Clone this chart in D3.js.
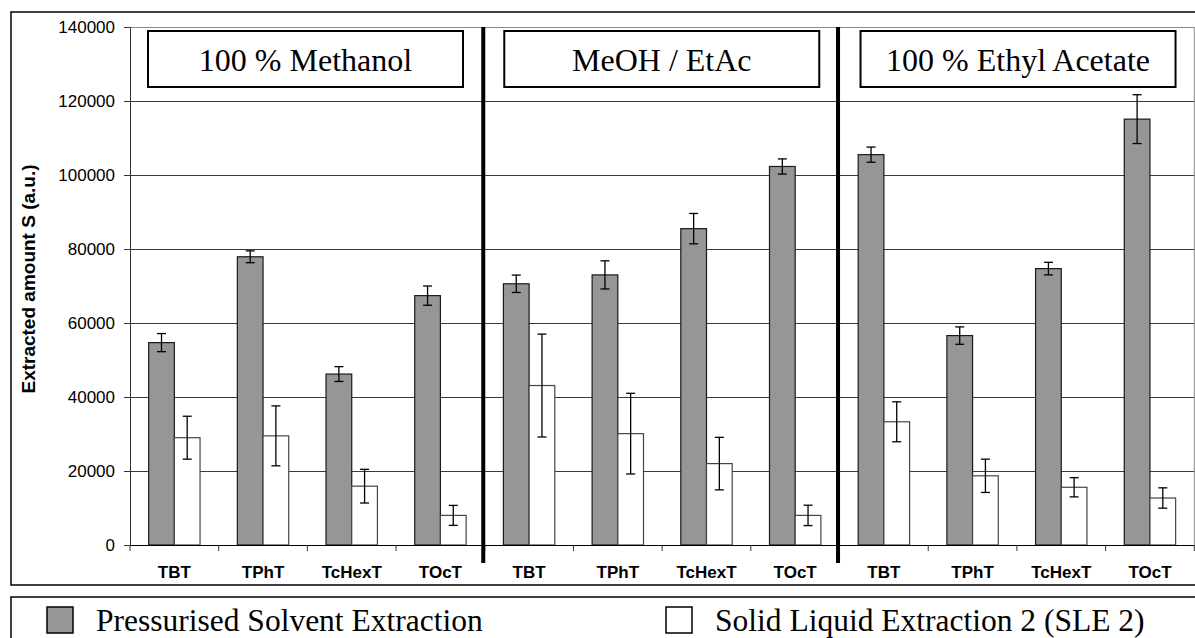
<!DOCTYPE html>
<html>
<head>
<meta charset="utf-8">
<script src="https://cdn.jsdelivr.net/npm/d3@7"></script>
<style>
  html, body { margin: 0; padding: 0; background: #fff; }
  svg { display: block; }
</style>
</head>
<body>
<svg id="chart" width="1195" height="638"></svg>
<script>
// Solvent groups and compounds (categories are solvent-major)
const solvents = ["100 % Methanol", "MeOH / EtAc", "100 % Ethyl Acetate"];
const compounds = ["TBT", "TPhT", "TcHexT", "TOcT"];

// Pressurised Solvent Extraction: means and error half-widths
const pseMean = [54700, 77900, 46200, 67400, 70600, 73000, 85500, 102300, 105500, 56600, 74700, 115100];
const pseErr  = [2450, 1600, 2000, 2600, 2350, 3800, 4100, 2050, 2050, 2350, 1700, 6600];

// Solid Liquid Extraction 2: means and error half-widths
const sleMean = [29000, 29500, 15900, 8000, 43100, 30100, 22000, 8000, 33300, 18700, 15600, 12700];
const sleErr  = [5800, 8100, 4550, 2700, 13900, 10900, 7100, 2750, 5400, 4500, 2600, 2750];

const yTicks = [0, 20000, 40000, 60000, 80000, 100000, 120000, 140000];
const seriesNames = ["Pressurised Solvent Extraction", "Solid Liquid Extraction 2 (SLE 2)"];

const svg = d3.select("#chart");
const W = 1195, H = 638;
const SANS = "'Liberation Sans', Arial, sans-serif";
const SERIF = "'Liberation Serif', 'Times New Roman', serif";

const plot = { left: 130, right: 1194.3, top: 27, bottom: 545 };

// Category index list
const cats = d3.range(solvents.length * compounds.length);
const rows = cats.map(i => ({
  i,
  compound: compounds[i % compounds.length],
  group: Math.floor(i / compounds.length),
  vals: [
    { key: "pse", mean: pseMean[i], err: pseErr[i] },
    { key: "sle", mean: sleMean[i], err: sleErr[i] }
  ]
}));

const x = d3.scaleBand().domain(cats).range([plot.left, plot.right]).padding(0);
const xSub = d3.scaleBand().domain(["pse", "sle"]).range([0, x.bandwidth()])
  .paddingInner(0).paddingOuter(0.726);
const y = d3.scaleLinear().domain([0, 140000]).range([plot.bottom, plot.top]);

const fill = { pse: "#969696", sle: "#ffffff" };
const stroke = { pse: "#1a1a1a", sle: "#444" };

// Outer chart frame
svg.append("rect")
  .attr("x", 11).attr("y", 12)
  .attr("width", W).attr("height", 573)
  .attr("fill", "none").attr("stroke", "#000").attr("stroke-width", 1.5);

// Legend frame
svg.append("rect")
  .attr("x", 11).attr("y", 597)
  .attr("width", W).attr("height", 60)
  .attr("fill", "none").attr("stroke", "#000").attr("stroke-width", 1.5);

// Horizontal gridlines
svg.append("g").selectAll("line")
  .data(yTicks.filter(t => t > 0))
  .join("line")
  .attr("x1", plot.left).attr("x2", plot.right)
  .attr("y1", d => Math.round(y(d)) + 0.5).attr("y2", d => Math.round(y(d)) + 0.5)
  .attr("stroke", d => d === 140000 ? "#8a8a8a" : "#3a3a3a")
  .attr("stroke-width", 1);

// Right border of plot area
svg.append("line")
  .attr("x1", plot.right).attr("x2", plot.right)
  .attr("y1", plot.top).attr("y2", plot.bottom)
  .attr("stroke", "#8a8a8a");

// Y axis
const yAxis = svg.append("g")
  .attr("transform", `translate(${plot.left},0)`)
  .call(d3.axisLeft(y).tickValues(yTicks).tickFormat(d3.format("d"))
    .tickSize(6).tickPadding(9));
yAxis.select(".domain").attr("stroke", "#333");
yAxis.selectAll(".tick line").attr("stroke", "#333");
yAxis.selectAll("text")
  .attr("font-family", SANS)
  .attr("font-size", "17px").attr("fill", "#000");

// Y axis title
svg.append("text")
  .attr("transform", "translate(35,279) rotate(-90)")
  .attr("text-anchor", "middle")
  .attr("font-family", SANS)
  .attr("font-weight", "bold").attr("font-size", "19px")
  .text("Extracted amount S (a.u.)");

// Bars
const catG = svg.append("g").selectAll("g")
  .data(rows).join("g")
  .attr("transform", d => `translate(${x(d.i)},0)`);

catG.selectAll("rect")
  .data(d => d.vals).join("rect")
  .attr("x", d => xSub(d.key))
  .attr("y", d => y(d.mean))
  .attr("width", xSub.bandwidth())
  .attr("height", d => y(0) - y(d.mean))
  .attr("fill", d => fill[d.key])
  .attr("stroke", d => stroke[d.key])
  .attr("stroke-width", 1.2);

// Error bars
const errG = catG.selectAll("g.err")
  .data(d => d.vals).join("g").attr("class", "err")
  .attr("transform", d => `translate(${xSub(d.key) + xSub.bandwidth() / 2},0)`);
errG.append("line")
  .attr("x1", 0).attr("x2", 0)
  .attr("y1", d => y(d.mean + d.err)).attr("y2", d => y(d.mean - d.err))
  .attr("stroke", "#000").attr("stroke-width", 1.3);
errG.append("line")
  .attr("x1", -4.5).attr("x2", 4.5)
  .attr("y1", d => y(d.mean + d.err)).attr("y2", d => y(d.mean + d.err))
  .attr("stroke", "#000").attr("stroke-width", 1.3);
errG.append("line")
  .attr("x1", -4.5).attr("x2", 4.5)
  .attr("y1", d => y(d.mean - d.err)).attr("y2", d => y(d.mean - d.err))
  .attr("stroke", "#000").attr("stroke-width", 1.3);

// X axis line with ticks at category boundaries
svg.append("line")
  .attr("x1", plot.left).attr("x2", plot.right)
  .attr("y1", plot.bottom + 0.5).attr("y2", plot.bottom + 0.5)
  .attr("stroke", "#000").attr("stroke-width", 1);
svg.append("g").selectAll("line")
  .data(cats.concat([cats.length]))
  .join("line")
  .attr("x1", d => plot.left + d * x.step()).attr("x2", d => plot.left + d * x.step())
  .attr("y1", plot.bottom).attr("y2", plot.bottom + 6)
  .attr("stroke", "#333");

// Category labels
svg.append("g").selectAll("text")
  .data(rows).join("text")
  .attr("x", d => x(d.i) + x.bandwidth() / 2)
  .attr("y", 578)
  .attr("text-anchor", "middle")
  .attr("font-family", SANS)
  .attr("font-weight", "bold").attr("font-size", "17px")
  .text(d => d.compound);

// Thick separators between solvent groups
const groupSize = compounds.length;
svg.append("g").selectAll("line")
  .data(d3.range(1, solvents.length))
  .join("line")
  .attr("x1", g => x(g * groupSize) - 1.5).attr("x2", g => x(g * groupSize) - 1.5)
  .attr("y1", plot.top).attr("y2", 563)
  .attr("stroke", "#000").attr("stroke-width", 4);

// Solvent title boxes
const boxW = 315, boxTop = 31, boxH = 56;
const boxG = svg.append("g").selectAll("g")
  .data(solvents).join("g")
  .attr("transform", (s, g) => `translate(${x(g * groupSize) + 18 + g * 1.5},${boxTop})`);
boxG.append("rect")
  .attr("width", boxW).attr("height", boxH)
  .attr("fill", "#fff").attr("stroke", "#000").attr("stroke-width", 2);
boxG.append("text")
  .attr("x", boxW / 2).attr("y", 40)
  .attr("text-anchor", "middle")
  .attr("font-family", SERIF)
  .attr("font-size", "32px")
  .text(s => s);

// Legend
const legX = [47, 666], legTextX = [96, 715];
const leg = svg.append("g").selectAll("g")
  .data(["pse", "sle"]).join("g");
leg.append("rect")
  .attr("x", (k, i) => legX[i]).attr("y", 607)
  .attr("width", 26).attr("height", 26)
  .attr("fill", k => fill[k]).attr("stroke", "#000").attr("stroke-width", 1.5);
leg.append("text")
  .attr("x", (k, i) => legTextX[i]).attr("y", 631)
  .attr("font-family", SERIF)
  .attr("font-size", "31.5px")
  .text((k, i) => seriesNames[i]);
</script>
</body>
</html>
